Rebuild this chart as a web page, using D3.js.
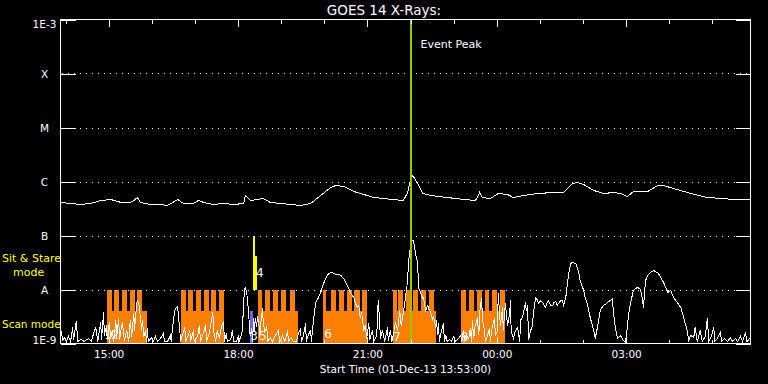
<!DOCTYPE html>
<html><head><meta charset="utf-8">
<script src="https://cdn.jsdelivr.net/npm/d3@7"></script>
<style>
html,body{margin:0;padding:0;background:#000;}
svg{display:block;background:#000;}
text{font-family:"DejaVu Sans",sans-serif;}
</style></head><body>
<svg id="c" width="768" height="384"></svg>
<script>
// ---------------- data ----------------
const startTime = Date.UTC(2013, 11, 1, 13, 53);   // 01-Dec-13 13:53:00
const spanMinutes = 960;
const fluxUnit = 1e-9;                               // series values in 1e-9 W m^-2

const levelValues = [1e-9, 1e-8, 1e-7, 1e-6, 1e-5, 1e-4, 1e-3];
const levelLabels = ["1E-9", "A", "B", "C", "M", "X", "1E-3"];
const gridLevels = [1e-8, 1e-7, 1e-6, 1e-5, 1e-4];
const timeTickLabels = ["15:00", "18:00", "21:00", "00:00", "03:00"];

// GOES long channel: [minutes after start, flux]
const longSeries = [[0,410],[14,392],[28,375],[42,392],[56,445],[70,464],[84,410],[97,410],[102,445],[107,506],[111,410],[125,375],[139,375],[149,360],[163,464],[171,392],[185,392],[192,445],[199,410],[213,375],[227,392],[241,375],[255,392],[257,551],[264,445],[274,464],[282,484],[292,410],[306,392],[320,375],[334,360],[348,392],[362,551],[376,774],[383,843],[394,807],[408,653],[422,574],[436,506],[449,484],[463,464],[477,445],[483,625],[486,957],[490,1290],[497,918],[504,600],[515,551],[538,506],[561,464],[577,445],[580,506],[583,625],[587,506],[598,484],[609,600],[622,574],[630,506],[644,551],[664,600],[686,625],[700,625],[712,918],[719,957],[728,879],[742,681],[756,600],[769,625],[779,600],[789,527],[797,653],[817,653],[831,843],[839,843],[853,741],[877,600],[900,506],[922,484],[936,464],[950,464],[960,464]];

// lower trace: [minutes after start, flux]
const shortSeries = [[0,1.09],[1,1.67],[3,1.14],[6,1.29],[8,1.09],[11,1.35],[14,1.09],[17,1.98],[18,1.14],[22,2.55],[24,1.09],[28,1.19],[33,1.09],[39,1.24],[43,1.09],[46,1.53],[49,1.98],[52,1.09],[54,1.74],[56,2.45],[57,1.14],[60,3.75],[61,1.41],[64,2.15],[65,1.14],[68,2.45],[70,1.24],[72,1.74],[74,1.09],[77,2.67],[78,1.29],[81,2.90],[82,1.14],[85,2.06],[86,2.45],[89,1.14],[92,1.74],[95,1.09],[97,2.67],[99,1.35],[102,3.59],[103,1.74],[106,5.50],[107,6.25],[109,5.50],[110,4.08],[111,3.30],[113,1.74],[114,2.67],[116,1.35],[118,1.74],[120,1.09],[121,1.90],[122,1.09],[127,1.29],[129,1.09],[132,1.35],[135,1.09],[139,1.24],[143,1.53],[145,1.09],[149,1.09],[153,1.41],[154,1.09],[157,2.67],[159,4.08],[161,4.64],[163,4.84],[164,3.30],[166,1.74],[167,1.09],[170,1.53],[173,1.98],[174,1.09],[177,1.35],[180,1.74],[181,1.09],[185,1.74],[186,1.09],[191,1.41],[193,2.15],[195,1.09],[199,1.60],[202,2.25],[203,1.09],[207,1.53],[210,2.67],[212,3.75],[213,1.74],[216,1.09],[218,1.74],[221,1.24],[224,2.06],[227,2.55],[228,1.09],[231,1.53],[232,1.09],[237,1.19],[239,1.74],[241,1.09],[245,1.09],[248,1.41],[249,1.09],[253,1.74],[255,6.25],[256,9.58],[257,10.9],[259,8.80],[260,6.81],[262,3.30],[263,1.74],[264,1.41],[266,1.90],[267,1.09],[269,2.90],[270,1.74],[271,2.90],[273,2.06],[274,3.16],[276,2.45],[277,1.24],[278,2.15],[280,3.30],[281,4.45],[282,2.67],[284,1.60],[287,2.06],[288,1.09],[292,1.29],[295,1.09],[299,1.41],[303,1.74],[305,1.09],[309,1.41],[312,1.09],[316,1.74],[317,1.09],[321,1.29],[324,1.09],[328,1.09],[331,1.53],[334,1.90],[335,1.09],[338,1.41],[341,2.35],[342,1.09],[345,1.47],[348,1.74],[349,1.09],[352,2.67],[355,5.74],[359,7.11],[362,8.80],[366,12.9],[369,16.0],[373,19.8],[376,20.6],[378,20.6],[383,19.0],[387,19.0],[390,18.2],[394,16.0],[397,13.5],[401,10.4],[403,8.80],[408,7.11],[410,5.74],[413,4.64],[415,5.05],[417,3.03],[419,3.75],[422,1.74],[424,2.15],[426,1.24],[429,2.35],[430,1.14],[434,1.74],[436,1.09],[440,1.41],[442,6.25],[444,2.67],[445,1.24],[448,1.74],[451,1.09],[455,1.98],[456,1.14],[459,1.74],[461,1.09],[463,1.41],[466,2.45],[469,1.74],[472,4.08],[474,2.15],[477,3.75],[480,7.11],[483,14.7],[484,30.3],[487,65.3],[488,80.7],[491,80.7],[494,46.4],[497,30.3],[498,10.9],[501,8.80],[504,6.81],[505,7.11],[508,4.08],[511,5.05],[512,4.45],[515,3.75],[518,2.67],[519,3.16],[522,1.98],[523,2.67],[525,1.41],[526,2.35],[527,1.09],[530,1.74],[533,2.35],[534,1.09],[536,1.41],[538,1.09],[541,1.19],[544,1.09],[547,1.35],[550,1.09],[554,1.24],[557,1.41],[558,1.09],[561,1.74],[562,1.09],[565,1.41],[568,1.24],[570,1.90],[572,1.09],[573,2.67],[575,1.24],[577,2.15],[580,3.03],[582,1.41],[584,5.05],[586,6.81],[587,2.67],[590,1.74],[591,1.09],[594,1.41],[597,1.90],[598,1.09],[601,2.15],[604,2.90],[605,1.41],[608,1.74],[609,8.43],[612,2.15],[615,4.64],[616,1.74],[619,5.50],[622,2.15],[625,3.59],[626,6.25],[627,1.74],[630,1.24],[633,1.74],[636,1.98],[639,1.09],[640,2.67],[643,3.16],[647,5.74],[648,4.08],[650,5.05],[651,1.14],[654,1.74],[656,1.98],[658,3.59],[661,7.11],[664,6.25],[665,5.50],[668,6.25],[671,5.74],[675,4.64],[677,5.74],[679,6.25],[682,5.05],[685,5.05],[686,5.74],[689,5.99],[691,5.05],[693,5.50],[696,6.25],[698,6.25],[700,5.05],[703,7.11],[705,11.9],[707,19.8],[710,30.3],[712,31.6],[717,30.3],[721,20.6],[723,14.7],[728,9.58],[730,7.11],[733,5.50],[737,3.03],[740,2.15],[742,1.74],[744,1.24],[747,1.98],[749,2.90],[751,4.08],[755,5.05],[758,5.27],[761,5.74],[765,6.25],[768,6.81],[769,4.08],[772,1.98],[775,1.24],[779,1.41],[783,1.14],[786,1.04],[789,2.15],[790,3.30],[793,5.50],[797,9.58],[800,10.4],[803,10.9],[807,10.0],[810,6.25],[811,4.64],[814,14.7],[817,18.2],[821,20.6],[825,22.5],[828,21.5],[832,19.8],[835,16.7],[839,13.5],[842,10.9],[845,8.80],[849,9.58],[853,7.11],[856,6.25],[858,5.74],[863,4.64],[867,3.03],[870,2.15],[872,1.74],[874,1.14],[877,1.41],[881,1.29],[883,1.98],[886,1.09],[890,1.74],[893,1.09],[897,1.35],[900,2.90],[902,1.09],[906,1.41],[909,1.98],[910,1.09],[914,1.24],[918,1.60],[920,1.09],[924,1.24],[928,1.09],[932,1.29],[935,1.09],[939,1.24],[942,1.09],[946,1.35],[949,1.09],[953,1.60],[955,1.09],[959,1.24]];

// scan mode: wide bands and narrow sub-scans [start min, end min]
const scanBands = [[64,120],[167,228],[275,331],[365,426],[462,523],[557,618]];
const scanTeeth = [[64,71],[75,82],[86,93],[97,103],[107,114],
  [167,174],[178,185],[189,195],[199,206],[210,217],[221,228],
  [275,280],[285,292],[296,303],[307,314],[319,326],
  [365,369],[376,383],[387,394],[398,405],[409,416],[420,426],
  [462,468],[469,476],[480,487],[490,498],[501,508],[512,519],
  [557,564],[568,575],[579,586],[590,596],[600,607],[611,618]];
const scanBandTop = 4.08;
const scanToothTop = 10;
const calibBars = [[264,268]];
const calibTop = 4.08;
// sit & stare: [start, end, top]
const stareBars = [[268,271,100],[271,273,41]];
const stareBase = 10;

const markerLabels = ["1","2","3","4","5","6","7","8"];
const markerTimes  = [61,71,264,272,276,367,463,557];
const markerLevels = [1.19,1.19,1.14,16.7,1.14,1.24,1.09,1.09];

const eventPeakMinute = 488.3;

// ---------------- drawing ----------------
const svg = d3.select("#c");
const L = 60.5, R = 750.5, T = 19.5, B = 343.5;
const tm = m => new Date(startTime + m * 60000);
const x = d3.scaleUtc().domain([tm(0), tm(spanMinutes)]).range([L, R]);
const y = d3.scaleLog().domain([1e-9, 1e-3]).range([B, T]).clamp(true);
const fy = v => y(v * fluxUnit);

const ORANGE = "#ff8000", BLUE = "#6464ff", YELLOW = "#ffff00", GREEN = "#94c800";

// scan mode rectangles
const gScan = svg.append("g").attr("shape-rendering", "crispEdges").attr("fill", ORANGE);
gScan.selectAll("rect.band").data(scanBands).join("rect").attr("class","band")
  .attr("x", d => x(tm(d[0]))).attr("width", d => x(tm(d[1])) - x(tm(d[0])))
  .attr("y", fy(scanBandTop)).attr("height", B - fy(scanBandTop));
gScan.selectAll("rect.tooth").data(scanTeeth).join("rect").attr("class","tooth")
  .attr("x", d => x(tm(d[0]))).attr("width", d => x(tm(d[1])) - x(tm(d[0])))
  .attr("y", fy(scanToothTop)).attr("height", B - fy(scanToothTop));
svg.append("g").attr("shape-rendering","crispEdges").attr("fill", BLUE)
  .selectAll("rect").data(calibBars).join("rect")
  .attr("x", d => x(tm(d[0]))).attr("width", d => x(tm(d[1])) - x(tm(d[0])))
  .attr("y", fy(calibTop)).attr("height", B - fy(calibTop));
svg.append("g").attr("shape-rendering","crispEdges").attr("fill", YELLOW)
  .selectAll("rect").data(stareBars).join("rect")
  .attr("x", d => x(tm(d[0]))).attr("width", d => x(tm(d[1])) - x(tm(d[0])))
  .attr("y", d => fy(d[2])).attr("height", d => fy(stareBase) - fy(d[2]));

// grid lines
svg.append("g").selectAll("line").data(gridLevels).join("line")
  .attr("x1", L).attr("x2", R).attr("y1", d => Math.round(y(d)) + 0.5).attr("y2", d => Math.round(y(d)) + 0.5)
  .attr("stroke", "#fff").attr("stroke-dasharray", "1,5").attr("stroke-dashoffset", -1)
  .attr("shape-rendering", "crispEdges");

// marker numbers
svg.append("g").selectAll("text").data(markerLabels).join("text")
  .attr("x", (d,i) => x(tm(markerTimes[i]))).attr("y", (d,i) => fy(markerLevels[i]))
  .attr("fill", "#fff").attr("font-size", 12).text(d => d);

// curves
const line = d3.line().x(d => x(tm(d[0]))).y(d => fy(d[1]));
[longSeries, shortSeries].forEach(s => {
  svg.append("path").datum(s).attr("d", line).attr("fill", "none")
    .attr("stroke", "#fff").attr("stroke-width", 1).attr("shape-rendering", "crispEdges");
});

// event peak
const xp = x(tm(eventPeakMinute));
svg.append("line").attr("x1", xp).attr("x2", xp).attr("y1", T).attr("y2", B)
  .attr("stroke", GREEN).attr("stroke-width", 2).attr("shape-rendering","crispEdges");
svg.append("text").attr("x", xp + 9).attr("y", 48).attr("fill", "#fff")
  .attr("font-size", 11).text("Event Peak");

// axes
function styleAxis(g) {
  g.select(".domain").remove();
  g.selectAll("line").attr("stroke", "#fff").attr("shape-rendering", "crispEdges");
  g.selectAll("text").attr("fill", "#fff").attr("font-family", "DejaVu Sans");
}
const hourTicks = x.ticks(d3.utcHour.every(1));
const majorTicks = x.ticks(d3.utcHour.every(3));
svg.append("g").attr("transform", `translate(0,${T})`)
  .call(d3.axisTop(x).tickValues(hourTicks).tickSize(-4).tickFormat("")).call(styleAxis);
svg.append("g").attr("transform", `translate(0,${T})`)
  .call(d3.axisTop(x).tickValues(majorTicks).tickSize(-7).tickFormat("")).call(styleAxis);
svg.append("g").attr("transform", `translate(0,${B})`)
  .call(d3.axisBottom(x).tickValues(hourTicks).tickSize(-4).tickFormat("")).call(styleAxis);
svg.append("g").attr("transform", `translate(0,${B})`)
  .call(d3.axisBottom(x).tickValues(majorTicks).tickSize(-7).tickPadding(7)
    .tickFormat((d,i) => timeTickLabels[i])).call(styleAxis)
  .selectAll("text").attr("font-size", 10.5);

const yl = svg.append("g").attr("transform", `translate(${L},0)`)
  .call(d3.axisLeft(y).tickValues(levelValues).tickSize(-15).tickFormat((d,i) => levelLabels[i]))
  .call(styleAxis);
yl.selectAll("text").attr("text-anchor", "middle").attr("x", -16).attr("font-size", 10.5)
  .attr("dy", (d,i) => i === 0 ? "-0.02em" : (i === levelValues.length - 1 ? "0.72em" : "0.36em"));
svg.append("g").attr("transform", `translate(${R},0)`)
  .call(d3.axisRight(y).tickValues(levelValues).tickSize(-15).tickFormat("")).call(styleAxis);

// frame
svg.append("rect").attr("x", L).attr("y", T).attr("width", R - L).attr("height", B - T)
  .attr("fill", "none").attr("stroke", "#fff").attr("shape-rendering", "crispEdges");

// titles
svg.append("text").attr("x", 384).attr("y", 15).attr("text-anchor", "middle")
  .attr("fill", "#fff").attr("font-size", 13.5).text("GOES 14 X-Rays:");
svg.append("text").attr("x", (L + R) / 2).attr("y", 373).attr("text-anchor", "middle")
  .attr("fill", "#fff").attr("font-size", 10.5).text("Start Time (01-Dec-13 13:53:00)");

// mode labels
svg.append("text").attr("x", 2).attr("y", 262).attr("fill", YELLOW).attr("font-size", 11).text("Sit & Stare");
svg.append("text").attr("x", 13).attr("y", 276).attr("fill", YELLOW).attr("font-size", 11).text("mode");
svg.append("text").attr("x", 2).attr("y", 328).attr("fill", YELLOW).attr("font-size", 10.5).text("Scan mode");
</script>
</body></html>
